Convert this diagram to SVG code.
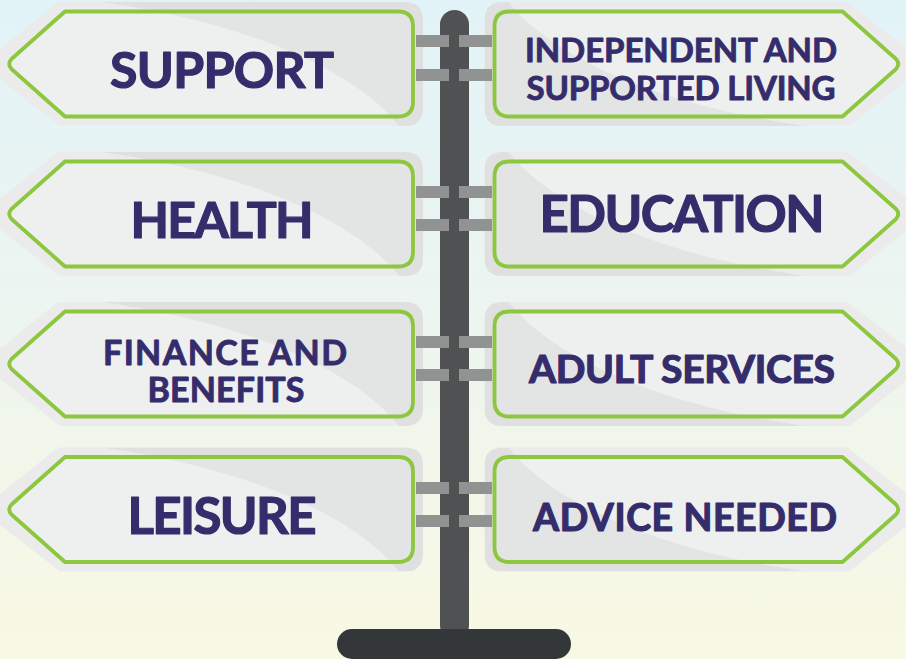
<svg xmlns="http://www.w3.org/2000/svg" xmlns:xlink="http://www.w3.org/1999/xlink" width="906" height="659" viewBox="0 0 906 659">
<defs>
<linearGradient id="bg" x1="0" y1="0" x2="0" y2="1">
<stop offset="0" stop-color="#e2f3f8"/>
<stop offset="0.5" stop-color="#edf5ef"/>
<stop offset="1" stop-color="#f8f9e3"/>
</linearGradient>
<path id="halo" d="M -152,-62 H 195 Q 213,-62 213,-44 V 44 Q 213,62 195,62 H -150 L -222,6 Q -226,0 -222,-6 Z"/>
<path id="plate" d="M -145,-52.5 H 188 Q 203,-52.5 203,-37.5 V 37.5 Q 203,52.5 188,52.5 H -145 L -198.5,5 Q -203,0 -198.5,-5 Z"/>
<path id="shade" d="M -115,-63 C 20,-45 140,0 190,63 L 240,63 L 240,-70 Z"/>
<clipPath id="haloClip"><use xlink:href="#halo"/></clipPath>
<g id="signShape">
<use xlink:href="#halo" class="halo"/>
<use xlink:href="#plate" class="plate"/>
<use xlink:href="#shade" class="shade" clip-path="url(#haloClip)"/>
<use xlink:href="#plate" class="outline"/>
</g>
</defs>
<style>
.halo{fill:#ebebeb}
.plate{fill:#eef0f0}
.shade{fill:#000;fill-opacity:0.045}
.outline{fill:none;stroke:#8dc63f;stroke-width:3.8;stroke-linejoin:round}
.lbl{font-family:Lato,"Liberation Sans",sans-serif;font-weight:700;fill:#352d6b;stroke:#352d6b;stroke-width:1.2;stroke-linejoin:round;text-anchor:middle}
.sm{stroke-width:0.9}
.bar{fill:#909391}
</style>
<rect x="0" y="0" width="906" height="659" fill="url(#bg)"/>

<g id="post">
<rect x="440" y="10" width="29" height="630" rx="14.5" fill="#505153"/>
<rect x="337" y="629" width="234" height="30" rx="15" fill="#343739"/>
</g>

<g id="sign-support">
<use xlink:href="#signShape" transform="translate(210,64)"/>
<text class="lbl" x="222" y="88" font-size="50" textLength="224">SUPPORT</text>
</g>
<g id="sign-health">
<use xlink:href="#signShape" transform="translate(210,214)"/>
<text class="lbl" x="222" y="238" font-size="50" textLength="183">HEALTH</text>
</g>
<g id="sign-finance">
<use xlink:href="#signShape" transform="translate(210,364)"/>
<text class="lbl sm" x="225" y="365" font-size="34" textLength="244">FINANCE AND</text>
<text class="lbl sm" x="226" y="402" font-size="34" textLength="157">BENEFITS</text>
</g>
<g id="sign-leisure">
<use xlink:href="#signShape" transform="translate(210,509.5)"/>
<text class="lbl" x="222" y="534" font-size="51" textLength="189">LEISURE</text>
</g>

<g id="sign-independent">
<use xlink:href="#signShape" transform="translate(697.5,64) rotate(180)"/>
<text class="lbl sm" x="681" y="62" font-size="33" textLength="312">INDEPENDENT AND</text>
<text class="lbl sm" x="681" y="100" font-size="33" textLength="309">SUPPORTED LIVING</text>
</g>
<g id="sign-education">
<use xlink:href="#signShape" transform="translate(697.5,214) rotate(180)"/>
<text class="lbl" x="682" y="232" font-size="51" textLength="285">EDUCATION</text>
</g>
<g id="sign-adult">
<use xlink:href="#signShape" transform="translate(697.5,364) rotate(180)"/>
<text class="lbl" x="682" y="383" font-size="39" textLength="306">ADULT SERVICES</text>
</g>
<g id="sign-advice">
<use xlink:href="#signShape" transform="translate(697.5,509.5) rotate(180)"/>
<text class="lbl" x="685" y="531" font-size="37.5" textLength="304">ADVICE NEEDED</text>
</g>

<g id="brackets">
<rect class="bar" x="416" y="35" width="33" height="12"/>
<rect class="bar" x="459" y="35" width="33" height="12"/>
<rect class="bar" x="416" y="69" width="33" height="12"/>
<rect class="bar" x="459" y="69" width="33" height="12"/>
<rect class="bar" x="416" y="186" width="33" height="12"/>
<rect class="bar" x="459" y="186" width="33" height="12"/>
<rect class="bar" x="416" y="219" width="33" height="12"/>
<rect class="bar" x="459" y="219" width="33" height="12"/>
<rect class="bar" x="416" y="336" width="33" height="12"/>
<rect class="bar" x="459" y="336" width="33" height="12"/>
<rect class="bar" x="416" y="369" width="33" height="12"/>
<rect class="bar" x="459" y="369" width="33" height="12"/>
<rect class="bar" x="416" y="482" width="33" height="12"/>
<rect class="bar" x="459" y="482" width="33" height="12"/>
<rect class="bar" x="416" y="515" width="33" height="12"/>
<rect class="bar" x="459" y="515" width="33" height="12"/>
</g>
</svg>
